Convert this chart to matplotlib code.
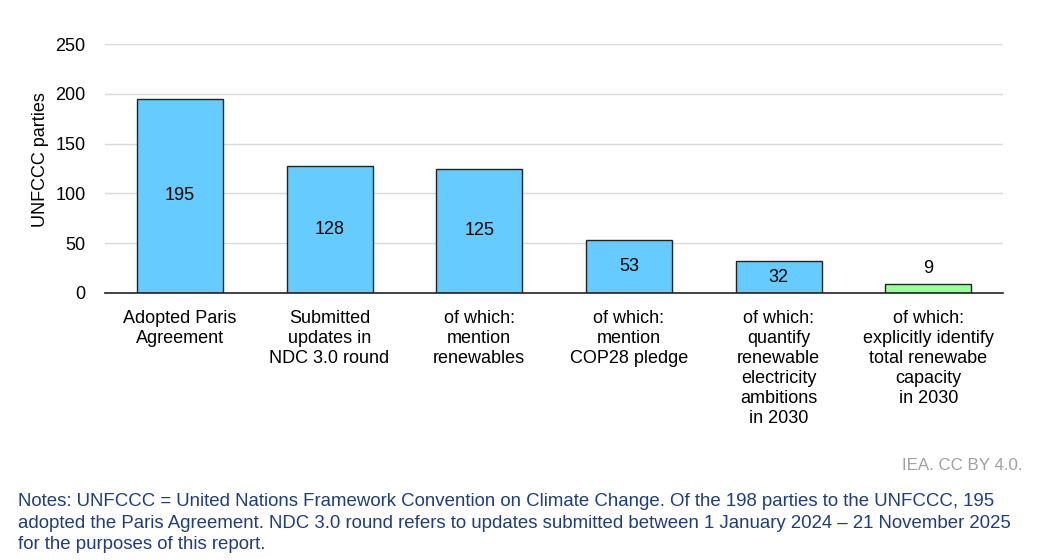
import matplotlib.pyplot as plt

plt.rcParams['font.family'] = ['Liberation Sans', 'DejaVu Sans']

categories = ['Adopted Paris\nAgreement',
              'Submitted\nupdates in\nNDC 3.0 round',
              'of which:\nmention\nrenewables',
              'of which:\nmention\nCOP28 pledge',
              'of which:\nquantify\nrenewable\nelectricity\nambitions\nin 2030',
              'of which:\nexplicitly identify\ntotal renewabe\ncapacity\nin 2030']
values = [195, 128, 125, 53, 32, 9]
colors = ['#66CCFF', '#66CCFF', '#66CCFF', '#66CCFF', '#66CCFF', '#99FF99']

fig = plt.figure(figsize=(10.42, 5.6), dpi=100)
ax = fig.add_axes([0.1008, 0.4768, 0.8618, 0.4446])

x = range(len(values))
bars = ax.bar(x, values, width=0.575, color=colors, edgecolor='#222222', linewidth=1, zorder=3)

for i, v in enumerate(values):
    if v > 20:
        ax.text(i, v / 2, str(v), ha='center', va='center', fontsize=13, color='black', zorder=4)
    else:
        ax.annotate(str(v), (i, v), xytext=(0, 16), textcoords='offset pixels',
                    ha='center', va='center', fontsize=13, color='black')

ax.set_xlim(-0.5, 5.5)
ax.set_ylim(0, 250)
ax.set_yticks([0, 50, 100, 150, 200, 250])
ax.set_xticks(list(x))
ax.set_xticklabels(categories, fontsize=13, va='top', linespacing=1.22)
ax.tick_params(axis='x', length=0, pad=12.5)
ax.tick_params(axis='y', length=0, pad=14, labelsize=13)
ax.yaxis.grid(True, color='#D9D9D9', linewidth=1, zorder=0)
ax.set_axisbelow(True)
for s in ['top', 'right', 'left']:
    ax.spines[s].set_visible(False)
ax.spines['bottom'].set_color('#222222')
ax.spines['bottom'].set_linewidth(1.2)
ax.spines['bottom'].set_zorder(5)
ax.set_ylabel('UNFCCC parties', fontsize=13)
ax.yaxis.set_label_coords(-56 / 898, 0.534)

fig.text(1022 / 1042, 1 - 466 / 560, 'IEA. CC BY 4.0.', ha='right', va='center',
         fontsize=12.2, color='#A0A0A0')
fig.text(18 / 1042, 1 - 523 / 560,
         'Notes: UNFCCC = United Nations Framework Convention on Climate Change. Of the 198 parties to the UNFCCC, 195\n'
         'adopted the Paris Agreement. NDC 3.0 round refers to updates submitted between 1 January 2024 \u2013 21 November 2025\n'
         'for the purposes of this report.',
         ha='left', va='center', fontsize=13.4, color='#1F3D7A', linespacing=1.36)

fig.savefig('out.png', dpi=100)
